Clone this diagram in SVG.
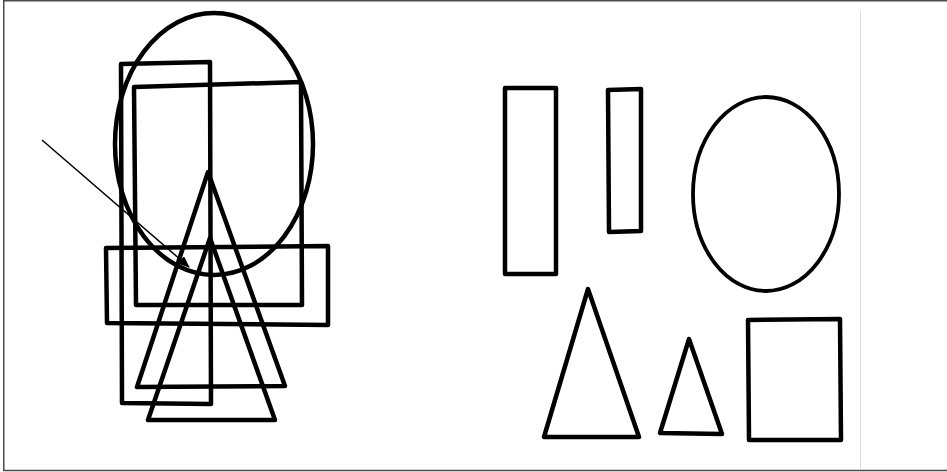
<svg xmlns="http://www.w3.org/2000/svg" width="947" height="472" viewBox="0 0 947 472">
<style>
.s{fill:none;stroke:#000;stroke-width:4.5;stroke-linejoin:round;stroke-linecap:round}
.t{stroke-width:3.8}
.frame{fill:none;stroke:#4a4a4a;stroke-width:1.5}
.conn{fill:none;stroke:#000;stroke-width:1.5}
</style>
<defs>
<marker id="ah" viewBox="0 0 12 10" refX="11" refY="5" markerWidth="12" markerHeight="10" markerUnits="userSpaceOnUse" orient="auto">
<path d="M0,0 L12,5 L0,10 Z" fill="#000"/>
</marker>
</defs>
<rect x="0" y="0" width="947" height="472" fill="#fff"/>
<path class="frame" d="M947,0.75 H3.75 V470.5 H947"/>
<line x1="860.5" y1="11" x2="860.5" y2="470" stroke="#dcdcdc" stroke-width="1"/>
<g id="composite">
<g id="big-ellipse"><ellipse class="s" cx="214" cy="144" rx="99" ry="131"/></g>
<g id="rect-a"><path class="s" d="M121,64 L210,62 L211,404 L122,403 Z"/></g>
<g id="rect-b"><path class="s" d="M134,87 L301,82 L302,305 L136,305 Z"/></g>
<g id="rect-c"><path class="s" d="M106,248 L328,246 L328,325 L107,323 Z"/></g>
<g id="tri-1"><path class="s" d="M208,172 L137,387 L285,386 Z"/></g>
<g id="tri-2"><path class="s" d="M210,238 L148,420 L275,420 Z"/></g>
</g>
<g id="rect-d"><rect class="s" x="505" y="88" width="51" height="186"/></g>
<g id="rect-e"><path class="s" d="M608,90 L641,89 L641,231 L609,232 Z"/></g>
<g id="ellipse-f"><ellipse class="s t" cx="766" cy="194" rx="73" ry="97"/></g>
<g id="tri-g"><path class="s" d="M588,289 L544,437 L639,437 Z"/></g>
<g id="tri-h"><path class="s" d="M689,339 L660,433 L722,434 Z"/></g>
<g id="rect-i"><path class="s" d="M748,320 L840,319 L841,440 L749,440 Z"/></g>
<g id="connectors">
<line class="conn" x1="42" y1="140" x2="189" y2="267" marker-end="url(#ah)"/>
</g>
</svg>
